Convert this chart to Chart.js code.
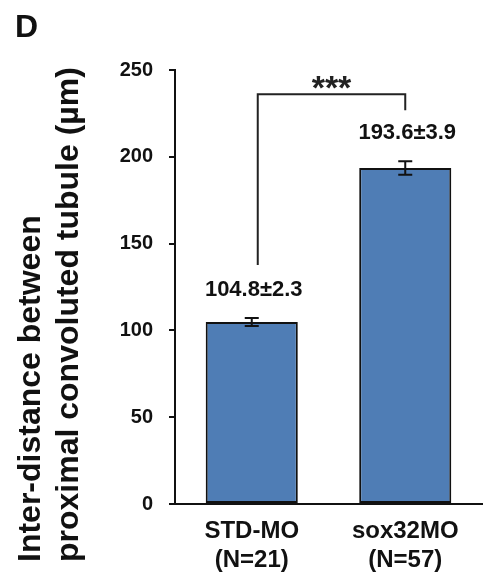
<!DOCTYPE html>
<html>
<head>
<meta charset="utf-8">
<script src="https://cdn.jsdelivr.net/npm/chart.js@4/dist/chart.umd.min.js"></script>
<style>
  html, body { margin: 0; padding: 0; background: #ffffff; }
  #wrap { width: 484px; height: 582px; position: relative; }
</style>
</head>
<body>
<div id="wrap"><canvas id="c"></canvas></div>
<script>
// ---- data ----
const panelLabel = 'D';
const groupNames = ['STD-MO', 'sox32MO'];
const groupCounts = ['(N=21)', '(N=57)'];
const means = [104.8, 193.6];
const sems = [2.3, 3.9];
const significance = '***';
const yTitleLines = ['Inter-distance between', 'proximal convoluted tubule (\u00b5m)'];
const yMin = 0;
const yMax = 250;
const yStep = 50;

const categories = groupNames.map((n, i) => [n, groupCounts[i]]);
const valueLabels = means.map((m, i) => m.toFixed(1) + '\u00b1' + sems[i].toFixed(1));

const FONT = '"Liberation Sans", Arial, Helvetica, sans-serif';
const INK = '#111111';

const annotate = {
  id: 'annotate',
  afterDatasetsDraw(chart) {
    const ctx = chart.ctx;
    const y = chart.scales.y;
    const meta = chart.getDatasetMeta(0);
    ctx.save();
    ctx.strokeStyle = INK;
    ctx.lineWidth = 2;
    ctx.fillStyle = INK;
    const labelY = [];
    meta.data.forEach((bar, i) => {
      const yHi = y.getPixelForValue(means[i] + sems[i]);
      const yLo = y.getPixelForValue(means[i] - sems[i]);
      const cap = 7;
      ctx.beginPath();
      ctx.moveTo(bar.x, yHi); ctx.lineTo(bar.x, yLo);
      ctx.moveTo(bar.x - cap, yHi); ctx.lineTo(bar.x + cap, yHi);
      ctx.moveTo(bar.x - cap, yLo); ctx.lineTo(bar.x + cap, yLo);
      ctx.stroke();
      const ly = yHi - 28;
      labelY.push(ly);
      ctx.font = 'bold 22px ' + FONT;
      ctx.textAlign = 'center';
      ctx.textBaseline = 'middle';
      ctx.fillText(valueLabels[i], bar.x + 2, ly);
    });
    // significance bracket
    const b0 = meta.data[0], b1 = meta.data[1];
    const x0 = b0.x + 6, x1 = b1.x;
    const e0 = labelY[0] - 25, e1 = labelY[1] - 23;
    const top = Math.min(e0, e1) - 16;
    ctx.strokeStyle = '#222222';
    ctx.beginPath();
    ctx.moveTo(x0, e0);
    ctx.lineTo(x0, top);
    ctx.lineTo(x1, top);
    ctx.lineTo(x1, e1);
    ctx.stroke();
    ctx.font = 'bold 34px ' + FONT;
    ctx.textAlign = 'center';
    ctx.textBaseline = 'alphabetic';
    ctx.fillStyle = '#222222';
    ctx.fillText(significance, (x0 + x1) / 2, top + 5);
    ctx.restore();
  }
};

new Chart(document.getElementById('c'), {
  type: 'bar',
  data: {
    labels: categories,
    datasets: [{
      data: means,
      backgroundColor: '#4F7DB5',
      borderColor: INK,
      borderWidth: 2,
      borderSkipped: false,
      barPercentage: 0.6,
      categoryPercentage: 1.0
    }]
  },
  options: {
    responsive: true,
    maintainAspectRatio: false,
    animation: false,
    layout: { padding: { left: 15, right: 2, top: 0, bottom: 20 } },
    plugins: {
      legend: { display: false },
      tooltip: { enabled: false },
      title: {
        display: true,
        text: panelLabel,
        position: 'top',
        align: 'start',
        color: INK,
        font: { family: FONT, size: 32, weight: 'bold', lineHeight: '32px' },
        padding: { top: 12, bottom: 26 }
      },
      subtitle: {
        display: true,
        text: yTitleLines,
        position: 'left',
        align: 'start',
        color: INK,
        font: { family: FONT, size: 32, weight: 'bold', lineHeight: '38px' },
        padding: { top: -3, bottom: 0 }
      }
    },
    scales: {
      x: {
        grid: { display: false, drawTicks: false },
        border: { display: true, color: INK, width: 2 },
        ticks: {
          color: INK,
          padding: 13,
          font: { family: FONT, size: 24, weight: 'bold', lineHeight: 1.2 }
        },
        afterFit(scale) {
          scale.height = 58;
          // let the two-line category labels extend below the axis box
          scale._computeLabelArea = function () {
            return { top: this.top, left: 0, bottom: this.chart.height, right: this.chart.width };
          };
        }
      },
      y: {
        min: yMin,
        max: yMax,
        grid: { display: true, drawOnChartArea: false, drawTicks: true, tickLength: 6, color: INK, lineWidth: 2 },
        border: { display: true, color: INK, width: 2 },
        ticks: {
          stepSize: yStep,
          color: INK,
          padding: 16,
          font: { family: FONT, size: 20, weight: 'bold' }
        },
        afterFit(scale) { scale.width = 87; }
      }
    }
  },
  plugins: [annotate]
});
</script>
</body>
</html>
